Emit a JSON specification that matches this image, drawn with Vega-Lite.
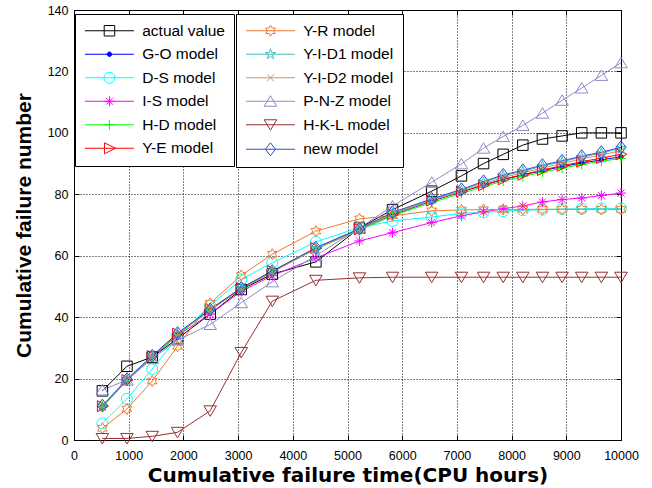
{
"$schema": "https://vega.github.io/schema/vega-lite/v6.json",
"width": 547, "height": 430,
"autosize": {"type": "none"},
"padding": {"left": 74, "top": 10, "right": 31, "bottom": 48},
"background": "white",
"config": {
  "view": {"stroke": "black", "strokeWidth": 1},
  "font": "Liberation Sans",
  "axis": {"labelFont": "Liberation Sans", "labelFontSize": 12.5, "labelColor": "black", "titleFont": "Liberation Sans", "titleFontSize": 20, "titleFontWeight": "bold", "titleColor": "black", "domainColor": "black", "tickColor": "black", "gridColor": "black", "gridOpacity": 1, "gridDash": [1, 2], "gridWidth": 1},
  "legend": {"title": null, "orient": "none", "direction": "vertical", "strokeColor": "black", "fillColor": "white", "padding": 9, "labelFont": "Liberation Sans", "labelFontSize": 15.5, "labelColor": "black", "symbolStrokeWidth": 1, "symbolSize": 100, "symbolOffset": 17.7, "labelOffset": 25, "rowPadding": 6.5}
},
"data": {"values": [
{"m":"actual value","t":519,"n":16},{"m":"actual value","t":968,"n":24},{"m":"actual value","t":1430,"n":27},{"m":"actual value","t":1893,"n":33},{"m":"actual value","t":2490,"n":41},{"m":"actual value","t":3058,"n":49},{"m":"actual value","t":3625,"n":54},{"m":"actual value","t":4422,"n":58},{"m":"actual value","t":5218,"n":69},{"m":"actual value","t":5823,"n":75},{"m":"actual value","t":6539,"n":81},{"m":"actual value","t":7083,"n":86},{"m":"actual value","t":7487,"n":90},{"m":"actual value","t":7846,"n":93},{"m":"actual value","t":8205,"n":96},{"m":"actual value","t":8564,"n":98},{"m":"actual value","t":8923,"n":99},{"m":"actual value","t":9282,"n":100},{"m":"actual value","t":9641,"n":100},{"m":"actual value","t":10000,"n":100},
{"m":"G-O model","t":519,"n":11},{"m":"G-O model","t":968,"n":19.5},{"m":"G-O model","t":1430,"n":27.3},{"m":"G-O model","t":1893,"n":34.5},{"m":"G-O model","t":2490,"n":42.5},{"m":"G-O model","t":3058,"n":49.3},{"m":"G-O model","t":3625,"n":54.8},{"m":"G-O model","t":4422,"n":62.3},{"m":"G-O model","t":5218,"n":68.5},{"m":"G-O model","t":5823,"n":73.3},{"m":"G-O model","t":6539,"n":77.8},{"m":"G-O model","t":7083,"n":80.8},{"m":"G-O model","t":7487,"n":83},{"m":"G-O model","t":7846,"n":84.8},{"m":"G-O model","t":8205,"n":86.3},{"m":"G-O model","t":8564,"n":87.7},{"m":"G-O model","t":8923,"n":89},{"m":"G-O model","t":9282,"n":90.2},{"m":"G-O model","t":9641,"n":91.2},{"m":"G-O model","t":10000,"n":92.2},
{"m":"D-S model","t":519,"n":5.4},{"m":"D-S model","t":968,"n":13.4},{"m":"D-S model","t":1430,"n":23.1},{"m":"D-S model","t":1893,"n":33.5},{"m":"D-S model","t":2490,"n":43.8},{"m":"D-S model","t":3058,"n":52.3},{"m":"D-S model","t":3625,"n":57.7},{"m":"D-S model","t":4422,"n":64.5},{"m":"D-S model","t":5218,"n":69.2},{"m":"D-S model","t":5823,"n":71.3},{"m":"D-S model","t":6539,"n":72.6},{"m":"D-S model","t":7083,"n":73.8},{"m":"D-S model","t":7487,"n":74.1},{"m":"D-S model","t":7846,"n":74.5},{"m":"D-S model","t":8205,"n":74.8},{"m":"D-S model","t":8564,"n":75},{"m":"D-S model","t":8923,"n":75.2},{"m":"D-S model","t":9282,"n":75.3},{"m":"D-S model","t":9641,"n":75.4},{"m":"D-S model","t":10000,"n":75.4},
{"m":"I-S model","t":519,"n":10.8},{"m":"I-S model","t":968,"n":19.3},{"m":"I-S model","t":1430,"n":27},{"m":"I-S model","t":1893,"n":34},{"m":"I-S model","t":2490,"n":41},{"m":"I-S model","t":3058,"n":48.4},{"m":"I-S model","t":3625,"n":53.5},{"m":"I-S model","t":4422,"n":59.3},{"m":"I-S model","t":5218,"n":64.8},{"m":"I-S model","t":5823,"n":67.5},{"m":"I-S model","t":6539,"n":70.8},{"m":"I-S model","t":7083,"n":73},{"m":"I-S model","t":7487,"n":74.3},{"m":"I-S model","t":7846,"n":75.3},{"m":"I-S model","t":8205,"n":76.2},{"m":"I-S model","t":8564,"n":77.5},{"m":"I-S model","t":8923,"n":78.3},{"m":"I-S model","t":9282,"n":78.8},{"m":"I-S model","t":9641,"n":79.6},{"m":"I-S model","t":10000,"n":80.4},
{"m":"H-D model","t":519,"n":10.8},{"m":"H-D model","t":968,"n":19.3},{"m":"H-D model","t":1430,"n":27},{"m":"H-D model","t":1893,"n":34.3},{"m":"H-D model","t":2490,"n":42.3},{"m":"H-D model","t":3058,"n":49.2},{"m":"H-D model","t":3625,"n":54.7},{"m":"H-D model","t":4422,"n":62.2},{"m":"H-D model","t":5218,"n":68.3},{"m":"H-D model","t":5823,"n":73},{"m":"H-D model","t":6539,"n":77.3},{"m":"H-D model","t":7083,"n":80.3},{"m":"H-D model","t":7487,"n":82.5},{"m":"H-D model","t":7846,"n":84.3},{"m":"H-D model","t":8205,"n":85.8},{"m":"H-D model","t":8564,"n":87.2},{"m":"H-D model","t":8923,"n":88.5},{"m":"H-D model","t":9282,"n":89.7},{"m":"H-D model","t":9641,"n":90.7},{"m":"H-D model","t":10000,"n":91.7},
{"m":"Y-E model","t":519,"n":11},{"m":"Y-E model","t":968,"n":19.5},{"m":"Y-E model","t":1430,"n":27.3},{"m":"Y-E model","t":1893,"n":34.6},{"m":"Y-E model","t":2490,"n":42.6},{"m":"Y-E model","t":3058,"n":49.5},{"m":"Y-E model","t":3625,"n":55},{"m":"Y-E model","t":4422,"n":62.5},{"m":"Y-E model","t":5218,"n":68.6},{"m":"Y-E model","t":5823,"n":73.5},{"m":"Y-E model","t":6539,"n":78},{"m":"Y-E model","t":7083,"n":80.9},{"m":"Y-E model","t":7487,"n":83},{"m":"Y-E model","t":7846,"n":84.9},{"m":"Y-E model","t":8205,"n":86.4},{"m":"Y-E model","t":8564,"n":87.9},{"m":"Y-E model","t":8923,"n":89.3},{"m":"Y-E model","t":9282,"n":90.6},{"m":"Y-E model","t":9641,"n":91.8},{"m":"Y-E model","t":10000,"n":93},
{"m":"Y-R model","t":519,"n":3.8},{"m":"Y-R model","t":968,"n":10.1},{"m":"Y-R model","t":1430,"n":19.2},{"m":"Y-R model","t":1893,"n":30.5},{"m":"Y-R model","t":2490,"n":44.5},{"m":"Y-R model","t":3058,"n":53.6},{"m":"Y-R model","t":3625,"n":60.5},{"m":"Y-R model","t":4422,"n":68},{"m":"Y-R model","t":5218,"n":72},{"m":"Y-R model","t":5823,"n":73},{"m":"Y-R model","t":6539,"n":74.6},{"m":"Y-R model","t":7083,"n":74.9},{"m":"Y-R model","t":7487,"n":75},{"m":"Y-R model","t":7846,"n":75},{"m":"Y-R model","t":8205,"n":75.1},{"m":"Y-R model","t":8564,"n":75.1},{"m":"Y-R model","t":8923,"n":75.1},{"m":"Y-R model","t":9282,"n":75.1},{"m":"Y-R model","t":9641,"n":75.1},{"m":"Y-R model","t":10000,"n":75.1},
{"m":"Y-I-D1 model","t":519,"n":11},{"m":"Y-I-D1 model","t":968,"n":19.6},{"m":"Y-I-D1 model","t":1430,"n":27.3},{"m":"Y-I-D1 model","t":1893,"n":34.7},{"m":"Y-I-D1 model","t":2490,"n":42.4},{"m":"Y-I-D1 model","t":3058,"n":49.4},{"m":"Y-I-D1 model","t":3625,"n":54.9},{"m":"Y-I-D1 model","t":4422,"n":62.4},{"m":"Y-I-D1 model","t":5218,"n":68.6},{"m":"Y-I-D1 model","t":5823,"n":73.8},{"m":"Y-I-D1 model","t":6539,"n":78.3},{"m":"Y-I-D1 model","t":7083,"n":81.3},{"m":"Y-I-D1 model","t":7487,"n":83.9},{"m":"Y-I-D1 model","t":7846,"n":86},{"m":"Y-I-D1 model","t":8205,"n":87.5},{"m":"Y-I-D1 model","t":8564,"n":89.2},{"m":"Y-I-D1 model","t":8923,"n":90.6},{"m":"Y-I-D1 model","t":9282,"n":92.1},{"m":"Y-I-D1 model","t":9641,"n":93.4},{"m":"Y-I-D1 model","t":10000,"n":95},
{"m":"Y-I-D2 model","t":519,"n":11},{"m":"Y-I-D2 model","t":968,"n":19.5},{"m":"Y-I-D2 model","t":1430,"n":27.2},{"m":"Y-I-D2 model","t":1893,"n":34.6},{"m":"Y-I-D2 model","t":2490,"n":42.3},{"m":"Y-I-D2 model","t":3058,"n":49.2},{"m":"Y-I-D2 model","t":3625,"n":54.7},{"m":"Y-I-D2 model","t":4422,"n":62.2},{"m":"Y-I-D2 model","t":5218,"n":68.4},{"m":"Y-I-D2 model","t":5823,"n":73.5},{"m":"Y-I-D2 model","t":6539,"n":78},{"m":"Y-I-D2 model","t":7083,"n":81},{"m":"Y-I-D2 model","t":7487,"n":83.4},{"m":"Y-I-D2 model","t":7846,"n":85.5},{"m":"Y-I-D2 model","t":8205,"n":87},{"m":"Y-I-D2 model","t":8564,"n":88.6},{"m":"Y-I-D2 model","t":8923,"n":90},{"m":"Y-I-D2 model","t":9282,"n":91.5},{"m":"Y-I-D2 model","t":9641,"n":92.8},{"m":"Y-I-D2 model","t":10000,"n":94.2},
{"m":"P-N-Z model","t":519,"n":16.3},{"m":"P-N-Z model","t":968,"n":19.5},{"m":"P-N-Z model","t":1430,"n":26.5},{"m":"P-N-Z model","t":1893,"n":32.5},{"m":"P-N-Z model","t":2490,"n":37.6},{"m":"P-N-Z model","t":3058,"n":44.7},{"m":"P-N-Z model","t":3625,"n":51.5},{"m":"P-N-Z model","t":4422,"n":60},{"m":"P-N-Z model","t":5218,"n":69},{"m":"P-N-Z model","t":5823,"n":76.2},{"m":"P-N-Z model","t":6539,"n":83.9},{"m":"P-N-Z model","t":7083,"n":89.9},{"m":"P-N-Z model","t":7487,"n":95},{"m":"P-N-Z model","t":7846,"n":98.8},{"m":"P-N-Z model","t":8205,"n":102.4},{"m":"P-N-Z model","t":8564,"n":106.4},{"m":"P-N-Z model","t":8923,"n":110.6},{"m":"P-N-Z model","t":9282,"n":114.6},{"m":"P-N-Z model","t":9641,"n":118.7},{"m":"P-N-Z model","t":10000,"n":122.8},
{"m":"H-K-L model","t":519,"n":0.5},{"m":"H-K-L model","t":968,"n":0.5},{"m":"H-K-L model","t":1430,"n":1.2},{"m":"H-K-L model","t":1893,"n":2.5},{"m":"H-K-L model","t":2490,"n":9.5},{"m":"H-K-L model","t":3058,"n":28.5},{"m":"H-K-L model","t":3625,"n":45.2},{"m":"H-K-L model","t":4422,"n":52},{"m":"H-K-L model","t":5218,"n":52.8},{"m":"H-K-L model","t":5823,"n":53},{"m":"H-K-L model","t":6539,"n":53},{"m":"H-K-L model","t":7083,"n":53},{"m":"H-K-L model","t":7487,"n":53},{"m":"H-K-L model","t":7846,"n":53},{"m":"H-K-L model","t":8205,"n":53},{"m":"H-K-L model","t":8564,"n":53},{"m":"H-K-L model","t":8923,"n":53},{"m":"H-K-L model","t":9282,"n":53},{"m":"H-K-L model","t":9641,"n":53},{"m":"H-K-L model","t":10000,"n":53},
{"m":"new model","t":519,"n":11.2},{"m":"new model","t":968,"n":19.8},{"m":"new model","t":1430,"n":27.4},{"m":"new model","t":1893,"n":34.8},{"m":"new model","t":2490,"n":42.5},{"m":"new model","t":3058,"n":49.5},{"m":"new model","t":3625,"n":55},{"m":"new model","t":4422,"n":62.6},{"m":"new model","t":5218,"n":68.8},{"m":"new model","t":5823,"n":74.1},{"m":"new model","t":6539,"n":78.5},{"m":"new model","t":7083,"n":81.6},{"m":"new model","t":7487,"n":84.2},{"m":"new model","t":7846,"n":86.3},{"m":"new model","t":8205,"n":87.8},{"m":"new model","t":8564,"n":89.5},{"m":"new model","t":8923,"n":90.9},{"m":"new model","t":9282,"n":92.4},{"m":"new model","t":9641,"n":93.7},{"m":"new model","t":10000,"n":95.3}
]},
"layer": [
  {
    "mark": {"type": "line", "strokeWidth": 1},
    "encoding": {
      "x": {"field": "t", "type": "quantitative", "scale": {"domain": [0, 10000], "nice": false}, "title": "Cumulative failure time(CPU hours)",
            "axis": {"values": [0,1000,2000,3000,4000,5000,6000,7000,8000,9000,10000], "format": "d", "tickSize": -5, "labelPadding": 14, "titlePadding": 4, "titleFont": "DejaVu Sans", "titleFontSize": 20, "grid": true, "labelFlush": false}},
      "y": {"field": "n", "type": "quantitative", "scale": {"domain": [0, 140], "nice": false}, "title": "Cumulative failure number",
            "axis": {"values": [0,20,40,60,80,100,120,140], "tickSize": -5, "labelPadding": 11, "titlePadding": 13, "titleFontSize": 21, "grid": true}},
      "color": {"field": "m", "type": "nominal", "legend": null,
        "scale": {"domain": ["actual value","G-O model","D-S model","I-S model","H-D model","Y-E model","Y-R model","Y-I-D1 model","Y-I-D2 model","P-N-Z model","H-K-L model","new model"],
                  "range": ["#000000","#0000ff","#00ffff","#ff00ff","#00ff00","#ff0000","#f0782d","#40c0c0","#d2935f","#8c8cc8","#992f2f","#2e4fd6"]}}
    }
  },
  {
    "mark": {"type": "point", "filled": false, "opacity": 1, "strokeWidth": 1, "size": 100},
    "encoding": {
      "x": {"field": "t", "type": "quantitative", "axis": null},
      "y": {"field": "n", "type": "quantitative", "axis": null},
      "stroke": {"field": "m", "type": "nominal", "legend": null,
        "scale": {"domain": ["actual value","G-O model","D-S model","I-S model","H-D model","Y-E model","Y-R model","Y-I-D1 model","Y-I-D2 model","P-N-Z model","H-K-L model","new model"],
                  "range": ["#000000","#0000ff","#00ffff","#ff00ff","#00ff00","#ff0000","#f0782d","#40c0c0","#d2935f","#8c8cc8","#992f2f","#2e4fd6"]}},
      "fill": {"field": "m", "type": "nominal", "legend": null,
        "scale": {"domain": ["actual value","G-O model","D-S model","I-S model","H-D model","Y-E model","Y-R model","Y-I-D1 model","Y-I-D2 model","P-N-Z model","H-K-L model","new model"],
                  "range": ["transparent","#0000ff","transparent","transparent","transparent","transparent","transparent","transparent","transparent","transparent","transparent","transparent"]}},
      "shape": {"field": "m", "type": "nominal", "legend": null,
        "scale": {"domain": ["actual value","G-O model","D-S model","I-S model","H-D model","Y-E model","Y-R model","Y-I-D1 model","Y-I-D2 model","P-N-Z model","H-K-L model","new model"],
                  "range": [
                    "M-1.05,-1.05H1.05V1.05H-1.05Z",
                    "M-0.45,0A0.45,0.45 0 1,0 0.45,0A0.45,0.45 0 1,0 -0.45,0Z",
                    "M-1.1,0A1.1,1.1 0 1,0 1.1,0A1.1,1.1 0 1,0 -1.1,0Z",
                    "M-1,0H1M0,-1V1M-0.7,-0.7L0.7,0.7M-0.7,0.7L0.7,-0.7",
                    "M-1,0H1M0,-1V1",
                    "M-1,-1.1L1.2,0L-1,1.1Z",
                    "M0,-1.1L0.318,-0.55L0.953,-0.55L0.635,0L0.953,0.55L0.318,0.55L0,1.1L-0.318,0.55L-0.953,0.55L-0.635,0L-0.953,-0.55L-0.318,-0.55Z",
                    "M0,-1.1L0.247,-0.34L1.046,-0.34L0.4,0.13L0.647,0.89L0,0.42L-0.647,0.89L-0.4,0.13L-1.046,-0.34L-0.247,-0.34Z",
                    "M-0.7,-0.7L0.7,0.7M-0.7,0.7L0.7,-0.7",
                    "M0,-1.1L1.25,1L-1.25,1Z",
                    "M0,1.1L1.25,-1L-1.25,-1Z",
                    "M0,-1.3L1,0L0,1.3L-1,0Z"]}}
    }
  },
  {
    "transform": [{"filter": "false"}],
    "mark": {"type": "point", "filled": false, "opacity": 1, "strokeWidth": 1, "size": 100},
    "encoding": {
      "x": {"field": "t", "type": "quantitative", "axis": {"orient": "top", "labels": false, "domain": false, "grid": false, "tickSize": -5, "values": [0,1000,2000,3000,4000,5000,6000,7000,8000,9000,10000], "title": null}},
      "y": {"field": "n", "type": "quantitative", "axis": {"orient": "right", "labels": false, "domain": false, "grid": false, "tickSize": -5, "values": [0,20,40,60,80,100,120,140], "title": null}},
      "stroke": {"field": "m", "type": "nominal",
        "scale": {"domain": ["actual value","G-O model","D-S model","I-S model","H-D model","Y-E model"],
                  "range": ["#000000","#0000ff","#00ffff","#ff00ff","#00ff00","#ff0000"]},
        "legend": {"legendX": 1, "legendY": 4}},
      "fill": {"field": "m", "type": "nominal",
        "scale": {"domain": ["actual value","G-O model","D-S model","I-S model","H-D model","Y-E model"],
                  "range": ["transparent","#0000ff","transparent","transparent","transparent","transparent"]},
        "legend": {"legendX": 1, "legendY": 4}},
      "shape": {"field": "m", "type": "nominal",
        "scale": {"domain": ["actual value","G-O model","D-S model","I-S model","H-D model","Y-E model"],
                  "range": [
                    "M-4.9,0H4.9M-1.05,-1.05H1.05V1.05H-1.05Z",
                    "M-4.9,0H4.9M-0.45,0A0.45,0.45 0 1,0 0.45,0A0.45,0.45 0 1,0 -0.45,0Z",
                    "M-4.9,0H4.9M-1.1,0A1.1,1.1 0 1,0 1.1,0A1.1,1.1 0 1,0 -1.1,0Z",
                    "M-4.9,0H4.9M-1,0H1M0,-1V1M-0.7,-0.7L0.7,0.7M-0.7,0.7L0.7,-0.7",
                    "M-4.9,0H4.9M-1,0H1M0,-1V1",
                    "M-4.9,0H4.9M-1,-1.1L1.2,0L-1,1.1Z"]},
        "legend": {"legendX": 1, "legendY": 4}}
    }
  },
  {
    "transform": [{"filter": "false"}],
    "mark": {"type": "point", "filled": false, "opacity": 1, "strokeWidth": 1, "size": 100},
    "encoding": {
      "x": {"field": "t", "type": "quantitative", "axis": null},
      "y": {"field": "n", "type": "quantitative", "axis": null},
      "stroke": {"field": "m", "type": "nominal",
        "scale": {"domain": ["Y-R model","Y-I-D1 model","Y-I-D2 model","P-N-Z model","H-K-L model","new model"],
                  "range": ["#f0782d","#40c0c0","#d2935f","#8c8cc8","#992f2f","#2e4fd6"]},
        "legend": {"legendX": 162, "legendY": 4}},
      "fill": {"field": "m", "type": "nominal",
        "scale": {"domain": ["Y-R model","Y-I-D1 model","Y-I-D2 model","P-N-Z model","H-K-L model","new model"],
                  "range": ["transparent","transparent","transparent","transparent","transparent","transparent"]},
        "legend": {"legendX": 162, "legendY": 4}},
      "shape": {"field": "m", "type": "nominal",
        "scale": {"domain": ["Y-R model","Y-I-D1 model","Y-I-D2 model","P-N-Z model","H-K-L model","new model"],
                  "range": [
                    "M-4.9,0H4.9M0,-1.1L0.318,-0.55L0.953,-0.55L0.635,0L0.953,0.55L0.318,0.55L0,1.1L-0.318,0.55L-0.953,0.55L-0.635,0L-0.953,-0.55L-0.318,-0.55Z",
                    "M-4.9,0H4.9M0,-1.1L0.247,-0.34L1.046,-0.34L0.4,0.13L0.647,0.89L0,0.42L-0.647,0.89L-0.4,0.13L-1.046,-0.34L-0.247,-0.34Z",
                    "M-4.9,0H4.9M-0.7,-0.7L0.7,0.7M-0.7,0.7L0.7,-0.7",
                    "M-4.9,0H4.9M0,-1.1L1.25,1L-1.25,1Z",
                    "M-4.9,0H4.9M0,1.1L1.25,-1L-1.25,-1Z",
                    "M-4.9,0H4.9M0,-1.3L1,0L0,1.3L-1,0Z"]},
        "legend": {"legendX": 162, "legendY": 4}}
    }
  }
],
"resolve": {"scale": {"stroke": "independent", "fill": "independent", "shape": "independent"}, "axis": {"x": "independent", "y": "independent"}}
}
